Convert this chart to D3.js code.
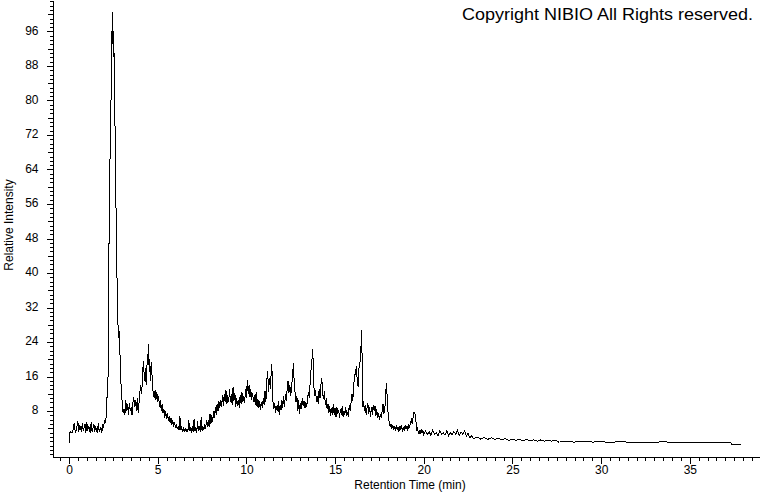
<!DOCTYPE html>
<html>
<head>
<meta charset="utf-8">
<script src="https://cdn.jsdelivr.net/npm/d3@7/dist/d3.min.js"></script>
<style>
  html, body { margin: 0; padding: 0; background: #fff; }
  svg { display: block; }
  text { font-family: "Liberation Sans", Arial, sans-serif; fill: #000; }
</style>
</head>
<body>
<div id="chart"></div>
<script>
// ---------- data ----------
const title = "Copyright NIBIO All Rights reserved.";
const xTitle = "Retention Time (min)";
const yTitle = "Relative Intensity";
const xTickLabels = [0, 5, 10, 15, 20, 25, 30, 35];
const yTickLabels = [8, 16, 24, 32, 40, 48, 56, 64, 72, 80, 88, 96];

// retention time (min) and relative intensity pairs
const retentionTime = [
  0.0,0.04,0.1,0.2,0.3,0.35,0.4,0.5,0.55,0.6,0.7,0.75,0.8,0.9,0.95,1.0,1.05,1.1,1.2,1.25,1.3,1.4,1.45,1.5,1.6,1.65,1.7,1.8,1.85,1.9,1.95,
  2.0,2.05,2.1,2.15,2.2,2.25,2.3,2.35,2.4,2.44,2.47,2.5,2.53,2.56,2.6,2.65,2.7,2.75,2.78,2.8,2.85,2.9,2.95,
  3.0,3.05,3.1,3.15,3.2,3.25,3.3,3.35,3.4,3.45,3.5,3.55,3.6,3.65,3.7,3.75,3.8,3.85,3.9,3.95,
  4.0,4.05,4.1,4.15,4.2,4.25,4.3,4.35,4.4,4.45,4.48,4.52,4.55,4.6,4.65,4.7,4.75,4.8,4.85,4.9,4.95,
  5.0,5.05,5.1,5.15,5.2,5.25,5.3,5.35,5.4,5.45,5.5,5.55,5.6,5.65,5.7,5.75,5.8,5.85,5.9,5.95,
  6.0,6.05,6.1,6.15,6.2,6.25,6.3,6.35,6.4,6.45,6.5,6.55,6.6,6.65,6.7,6.75,6.8,6.85,6.9,6.95,
  7.0,7.05,7.1,7.15,7.2,7.25,7.3,7.35,7.4,7.45,7.5,7.55,7.6,7.65,7.7,7.75,7.8,7.85,7.9,7.95,
  8.0,8.05,8.1,8.15,8.2,8.25,8.3,8.35,8.4,8.45,8.5,8.55,8.6,8.65,8.7,8.75,8.8,8.85,8.9,8.95,
  9.0,9.05,9.1,9.15,9.2,9.25,9.3,9.35,9.4,9.45,9.5,9.55,9.6,9.65,9.7,9.75,9.8,9.85,9.9,9.95,
  10.0,10.05,10.1,10.15,10.2,10.25,10.3,10.35,10.4,10.45,10.5,10.55,10.6,10.65,10.7,10.75,10.8,10.85,10.9,10.95,
  11.0,11.05,11.1,11.15,11.2,11.25,11.3,11.35,11.4,11.43,11.47,11.5,11.55,11.6,11.65,11.7,11.75,11.8,11.85,11.9,11.95,
  12.0,12.05,12.1,12.15,12.2,12.25,12.3,12.35,12.4,12.45,12.5,12.55,12.6,12.65,12.7,12.75,12.8,12.85,12.9,12.95,
  13.0,13.05,13.1,13.15,13.2,13.25,13.3,13.35,13.4,13.45,13.5,13.55,13.6,13.65,13.7,13.74,13.78,13.8,13.85,13.9,13.95,
  14.0,14.05,14.1,14.15,14.2,14.25,14.3,14.35,14.4,14.45,14.5,14.55,14.6,14.65,14.7,14.75,14.8,14.85,14.9,14.95,
  15.0,15.05,15.1,15.15,15.2,15.25,15.3,15.35,15.4,15.45,15.5,15.55,15.6,15.65,15.7,15.75,15.8,15.85,15.9,15.95,
  16.0,16.05,16.1,16.15,16.2,16.25,16.3,16.35,16.4,16.45,16.5,16.53,16.56,16.6,16.65,16.7,16.75,16.8,16.85,16.9,16.95,
  17.0,17.05,17.1,17.15,17.2,17.25,17.3,17.35,17.4,17.45,17.5,17.55,17.6,17.65,17.7,17.75,17.8,17.85,17.9,17.95,
  18.0,18.05,18.1,18.15,18.2,18.25,18.3,18.35,18.4,18.45,18.5,18.55,18.6,18.65,18.7,18.75,18.8,18.85,18.9,18.95,
  19.0,19.05,19.1,19.15,19.2,19.25,19.3,19.35,19.4,19.45,19.5,19.55,19.6,19.65,19.7,19.75,19.8,19.85,19.9,19.95,
  20.0,20.1,20.2,20.3,20.4,20.5,20.6,20.7,20.8,20.9,21.0,21.1,21.2,21.3,21.4,21.5,21.6,21.7,21.8,21.9,
  22.0,22.1,22.2,22.3,22.4,22.5,22.6,22.7,22.8,23.0,23.2,23.4,23.6,23.8,24.0,24.2,24.4,24.6,24.8,
  25.0,25.2,25.4,25.6,25.8,26.0,26.2,26.4,26.6,26.8,27.0,27.2,27.4,27.6,28.0,28.5,29.0,29.5,
  30.0,30.5,31.0,31.5,32.0,32.5,33.0,33.5,34.0,34.5,35.0,35.5,36.0,36.5,37.0,37.3,37.35,37.9
];
const intensity = [
  0.6,3.0,3.2,3.0,5.3,3.1,3.4,5.6,3.2,4.8,3.1,5.2,3.4,4.9,3.0,5.5,3.3,4.6,3.0,5.4,3.2,5.0,3.1,4.4,2.9,5.1,3.3,4.2,3.0,4.5,4.0,
  6.0,5.2,7.0,12,16,45,64,75,90,100.6,93,96,90,91,70,55,40,30,25,28,24,18,12,
  10,7.5,8.5,7.0,10.5,8.0,9.5,7.2,9.8,8.0,8.8,7.0,10.0,11.2,9.0,10.5,8.0,11.0,7.5,10.0,
  12.5,14.0,12,17,19.6,15,18,14,19,21,23.5,17,20,15,19.4,14,12,11,12.8,10.5,12.5,
  10,11.5,9,10.5,8,9.5,7.5,8.5,6.5,8,6.2,7.6,5.8,6.8,5.2,6.4,4.8,6.0,4.2,5.4,
  4.0,5.0,3.8,4.4,3.6,6.8,3.5,4.2,3.4,4.0,3.2,4.0,3.3,3.8,3.2,5.8,3.4,4.0,3.0,4.4,
  3.2,6.2,3.4,4.2,3.0,5.6,3.3,4.6,3.2,6.6,3.4,4.4,3.6,5.0,3.8,5.8,4.2,6.0,4.4,7.4,
  5.0,7.0,5.4,8.0,6.4,9.0,7.0,9.6,8.0,10.2,8.6,10.6,9.0,11.6,9.2,12.0,10.0,12.8,9.6,11.6,
  10.2,13.0,10.0,12.0,9.4,13.6,10.4,12.2,9.0,11.0,9.2,10.6,8.8,11.8,9.6,12.4,10.0,11.4,9.8,13.0,
  11.0,15.2,12.0,14.0,11.2,13.0,10.6,12.2,10.0,11.6,9.4,12.4,9.0,10.8,8.6,10.4,8.2,10.0,8.8,11.0,
  9.4,12.6,10.2,15.0,17.2,12.4,15.6,13.0,17.0,19.0,14.0,10.0,8.6,9.8,7.6,9.2,8.0,10.2,7.0,9.4,8.2,
  10.6,8.8,11.4,9.0,12.0,10.4,13.2,15.0,12.2,14.0,11.4,13.6,16.0,19.2,14.0,12.0,10.0,11.4,8.0,10.6,
  7.2,9.8,8.4,11.0,9.2,10.4,8.6,10.0,9.0,11.0,12.4,11.0,15.0,18.0,20.0,22.4,17.0,14.0,11.6,12.8,10.0,
  11.4,9.6,13.0,11.0,14.0,15.6,12.0,10.8,12.6,9.4,11.0,8.4,9.6,7.6,9.2,6.8,8.6,7.2,9.6,7.0,
  8.8,6.6,9.0,7.4,8.2,6.4,8.4,7.0,9.2,6.6,8.0,7.2,9.0,6.8,7.8,6.6,9.4,8.0,10.0,12.0,
  10.4,14.0,16.0,17.0,18.4,15.0,13.6,18.0,19.0,22.0,26.8,18.0,9.0,10.4,8.0,9.4,7.2,8.6,9.8,7.4,8.8,
  6.6,9.0,7.0,9.4,8.0,9.2,6.8,8.4,6.4,7.6,6.0,7.2,6.4,8.0,9.6,7.4,8.0,12.0,14.6,10.0,
  6.6,5.4,4.4,5.0,3.8,4.8,3.6,4.6,3.4,4.8,3.6,4.2,3.2,4.6,3.8,4.4,3.4,4.0,3.6,4.8,
  3.8,4.6,3.4,5.0,4.2,5.4,6.0,5.0,6.6,7.8,7.4,6.0,3.6,4.0,2.8,3.4,2.6,3.8,3.0,3.6,
  2.6,3.4,2.5,3.2,2.4,3.6,2.6,3.0,2.2,3.4,2.6,3.0,2.4,3.4,2.3,3.0,2.5,3.2,2.6,3.6,
  2.4,3.2,2.6,3.4,2.2,2.8,1.8,2.2,1.6,2.0,1.5,1.9,1.4,1.8,1.4,1.7,1.3,1.6,1.2,
  1.5,1.2,1.4,1.1,1.4,1.1,1.3,1.0,1.3,1.0,1.2,1.0,1.3,0.8,0.9,0.8,1.0,0.8,
  0.9,0.7,0.9,0.8,0.8,0.8,0.7,0.9,0.7,0.8,0.7,0.7,0.7,0.7,0.7,0.7,0.3,0.3
];

// ---------- layout ----------
const W = 760, H = 492;
const svg = d3.select("#chart").append("svg")
  .attr("width", W).attr("height", H)
  .style("background", "#fff");

const x = d3.scaleLinear().domain([-0.96, 38.9]).range([52, 759]);
const y = d3.scaleLinear().domain([-2.43, 103.3]).range([456, 0]);

const series = retentionTime.map((t, i) => ({ t, v: intensity[i] }));

// minor / medium ticks
const yMinor = d3.range(-2, 104, 1);
const yMedium = d3.range(4, 104, 8);
const xMinor = d3.range(-0.5, 39, 0.5);

const gy = svg.append("g").attr("transform", "translate(52.5,0)");
gy.append("g").call(d3.axisLeft(y).tickValues(yMinor).tickSize(3).tickFormat("").tickSizeOuter(0))
  .call(g => g.select(".domain").remove());
gy.append("g").call(d3.axisLeft(y).tickValues(yMedium).tickSize(5).tickFormat("").tickSizeOuter(0))
  .call(g => g.select(".domain").remove());
gy.append("g").call(d3.axisLeft(y).tickValues(yTickLabels).tickSize(6).tickPadding(8).tickSizeOuter(0))
  .call(g => g.selectAll("text").attr("font-size", 12).attr("dy", "0.22em").style("font-family", "'Liberation Sans', Arial, sans-serif"));

const gx = svg.append("g").attr("transform", "translate(0,456.5)");
gx.append("g").call(d3.axisBottom(x).tickValues(xMinor).tickSize(4).tickFormat("").tickSizeOuter(0))
  .call(g => g.select(".domain").remove());
gx.append("g").call(d3.axisBottom(x).tickValues(xTickLabels).tickSize(7).tickPadding(2).tickSizeOuter(0))
  .call(g => g.selectAll("text").attr("font-size", 12).style("font-family", "'Liberation Sans', Arial, sans-serif"));

svg.selectAll(".domain").attr("stroke", "#000").attr("stroke-width", 1).attr("shape-rendering", "crispEdges");
svg.selectAll(".tick line").attr("stroke", "#000").attr("shape-rendering", "crispEdges");

// trace
const line = d3.line().x(d => x(d.t)).y(d => y(d.v));
svg.append("path")
  .datum(series)
  .attr("fill", "none")
  .attr("stroke", "#000")
  .attr("stroke-width", 1)
  .attr("shape-rendering", "crispEdges")
  .attr("d", line);

// titles
svg.append("text")
  .attr("x", 753).attr("y", 20)
  .attr("text-anchor", "end")
  .attr("font-size", 17)
  .attr("textLength", 291)
  .attr("lengthAdjust", "spacingAndGlyphs")
  .text(title);

svg.append("text")
  .attr("x", 410).attr("y", 489)
  .attr("text-anchor", "middle")
  .attr("font-size", 12)
  .text(xTitle);

svg.append("text")
  .attr("transform", "translate(13,225) rotate(-90)")
  .attr("text-anchor", "middle")
  .attr("font-size", 12)
  .text(yTitle);
</script>
</body>
</html>
